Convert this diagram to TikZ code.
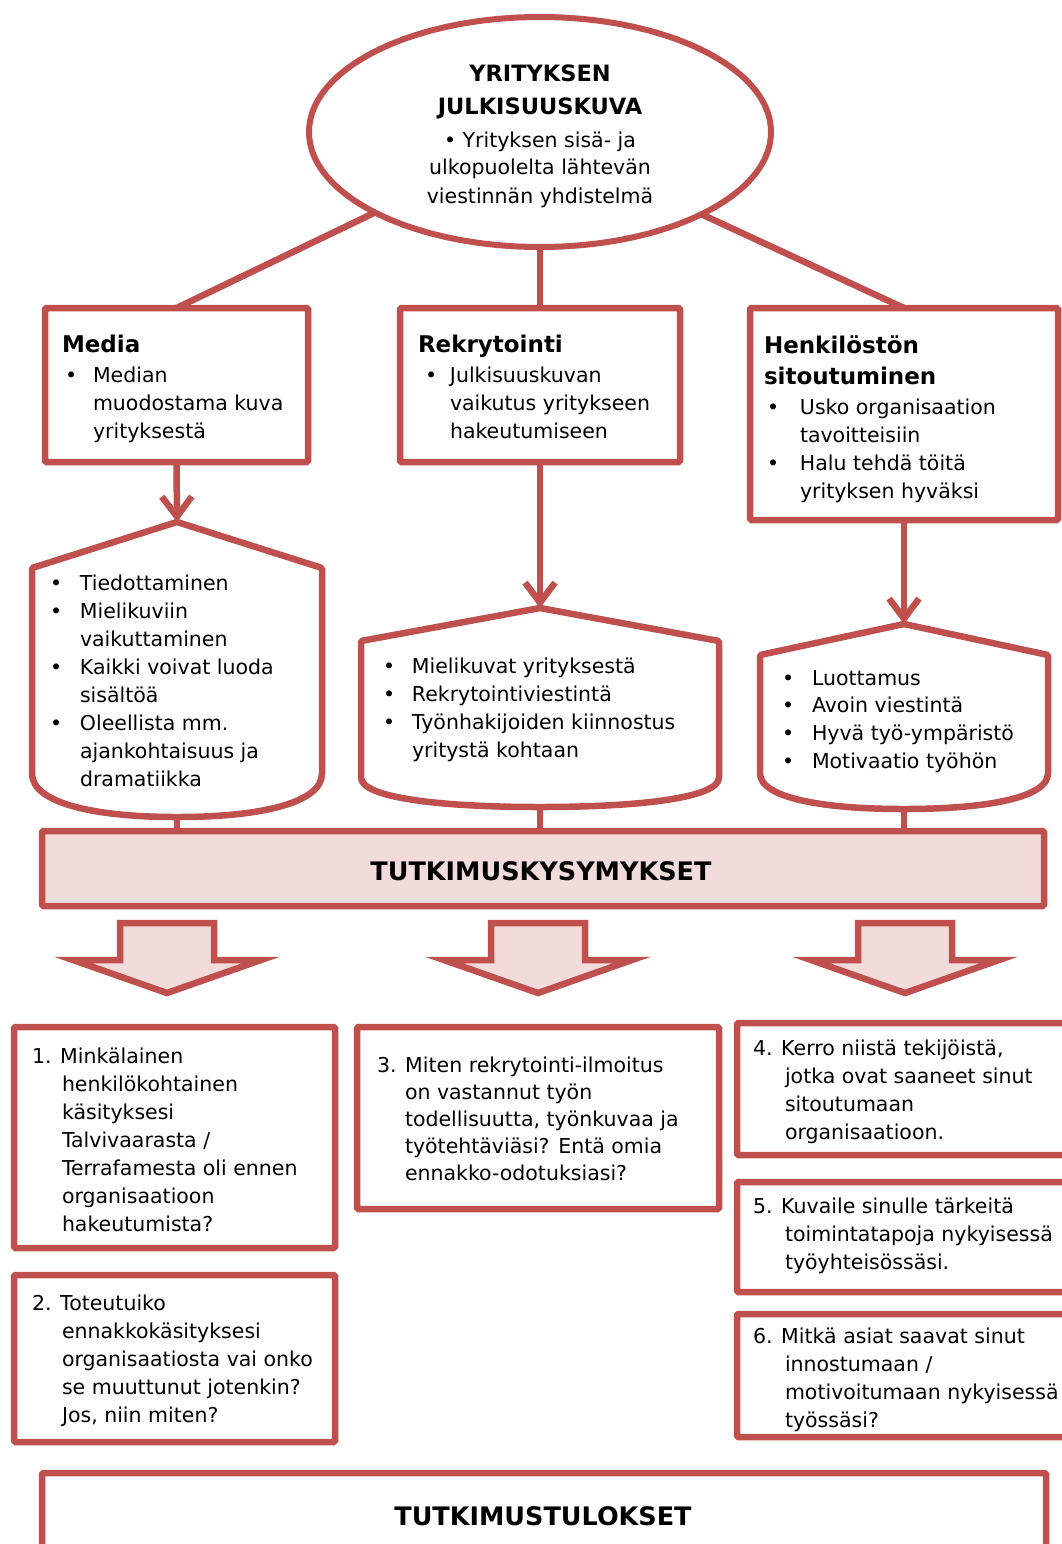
\documentclass[tikz,border=0pt]{standalone}
\usepackage{fontspec}
\setmainfont{DejaVu Sans}
\usetikzlibrary{shapes.geometric,arrows.meta}
\definecolor{accent}{HTML}{C0504D}
\definecolor{blush}{HTML}{F2DCDB}

% hexagon-like panel: left x, right x, apex y, corner y, side end y, bottom y
\newcommand\hexpanel[6]{%
  \draw[frame, fill=white] (#1,#4) -- ({(#1+#2)/2},#3) -- (#2,#4) -- (#2,#5)
    .. controls (#2,{#5+0.7*(#6-#5)}) and ({#2-0.22*(#2-#1)},#6) .. ({(#1+#2)/2},#6)
    .. controls ({#1+0.22*(#2-#1)},#6) and (#1,{#5+0.7*(#6-#5)}) .. (#1,#5) -- cycle;}

% broad downward block arrow centred on x
\newcommand\blockdown[1]{%
  \draw[blockarrow] ({#1-47},923) -- ({#1+47},923) -- ({#1+47},960) -- ({#1+94},960)
    -- (#1,993) -- ({#1-94},960) -- ({#1-47},960) -- cycle;}

\begin{document}
\begin{tikzpicture}[x=1pt,y=-1pt,
  frame/.style={draw=accent, line width=6.5pt, rounded corners=1.5pt},
  box/.style={frame, fill=white, anchor=north west, inner sep=0pt, outer sep=0pt},
  link/.style={draw=accent, line width=6.5pt},
  down/.style={link, -{Straight Barb[length=20pt,width=30pt]}},
  blockarrow/.style={draw=accent, fill=blush, line width=6.5pt, line join=miter},
  body/.style={inner sep=0pt, outer sep=0pt, anchor=base west, font=\fontsize{20.5}{28}\selectfont},
  head/.style={inner sep=0pt, outer sep=0pt, anchor=base west, font=\fontsize{23}{31}\selectfont\bfseries},
  banner/.style={inner sep=0pt, outer sep=0pt, anchor=base, font=\fontsize{25.5}{30}\selectfont\bfseries}
]
\useasboundingbox[fill=white] (0,0) rectangle (1062,1544);

% ---- top ellipse ----
\node[ellipse, draw=accent, line width=6pt, fill=white, minimum width=462pt,
      minimum height=230pt, inner sep=0pt, outer sep=0pt] (ell) at (540,132) {};
\node[inner sep=0pt, anchor=base] (elltitle) at (540,82)
  {\parbox[t]{320pt}{\centering\fontsize{22.5}{33}\selectfont\bfseries YRITYKSEN\\JULKISUUSKUVA\par}};
\node[inner sep=0pt, anchor=base] (elltext) at (540,147)
  {\parbox[t]{320pt}{\centering\fontsize{20.5}{28}\selectfont • Yrityksen sisä- ja\\ulkopuolelta lähtevän\\viestinnän yhdistelmä\par}};

% ---- first row of boxes ----
\node[box, minimum width=263pt, minimum height=154pt] (media) at (45,308) {};
\node[box, minimum width=280pt, minimum height=154pt] (rekry) at (400,308) {};
\node[box, minimum width=308pt, minimum height=212pt] (henk) at (750,308) {};

\draw[link] (ell.206.8) -- (media.north);
\draw[link] (ell.south) -- (rekry.north);
\draw[link] (ell.333.2) -- (henk.north);

\node[head] (mediahead) at (62,352) {Media};
\node[body] (medialist) at (65,382) {\begin{tabular}[t]{@{}p{28pt}@{}l@{}}
  • & Median\\ & muodostama kuva\\ & yrityksestä\end{tabular}};

\node[head] (rekryhead) at (418,352) {Rekrytointi};
\node[body] (rekrylist) at (425,382) {\begin{tabular}[t]{@{}p{25pt}@{}l@{}}
  • & Julkisuuskuvan\\ & vaikutus yritykseen\\ & hakeutumiseen\end{tabular}};

\node[head] (henkhead) at (764,353) {\begin{tabular}[t]{@{}l@{}}Henkilöstön\\sitoutuminen\end{tabular}};
\node[body] (henklist) at (767,414) {\begin{tabular}[t]{@{}p{33pt}@{}l@{}}
  • & Usko organisaation\\ & tavoitteisiin\\
  • & Halu tehdä töitä\\ & yrityksen hyväksi\end{tabular}};

% ---- second row: panels ----
\hexpanel{32}{322}{522}{568}{772}{817}
\coordinate (mediatop) at (177,522);
\coordinate (mediabot) at (177,817);
\hexpanel{361}{719}{608}{641}{776}{807}
\coordinate (rekrytop) at (540,608);
\coordinate (rekrybot) at (540,807);
\hexpanel{760}{1048}{624}{655}{772}{809}
\coordinate (henktop) at (904,624);
\coordinate (henkbot) at (904,809);

\draw[down] (media.south) -- (mediatop);
\draw[down] (rekry.south) -- (rekrytop);
\draw[down] (henk.south) -- (henktop);

\node[body] (medianotes) at (50,590) {\begin{tabular}[t]{@{}p{30pt}@{}l@{}}
  • & Tiedottaminen\\
  • & Mielikuviin\\ & vaikuttaminen\\
  • & Kaikki voivat luoda\\ & sisältöä\\
  • & Oleellista mm.\\ & ajankohtaisuus ja\\ & dramatiikka\end{tabular}};

\node[body] (rekrynotes) at (383,673) {\begin{tabular}[t]{@{}p{29pt}@{}l@{}}
  • & Mielikuvat yrityksestä\\
  • & Rekrytointiviestintä\\
  • & Työnhakijoiden kiinnostus\\ & yritystä kohtaan\end{tabular}};

\node[body, font=\fontsize{20.5}{27.7}\selectfont] (henknotes) at (782,685) {\begin{tabular}[t]{@{}p{30pt}@{}l@{}}
  • & Luottamus\\
  • & Avoin viestintä\\
  • & Hyvä työ-ympäristö\\
  • & Motivaatio työhön\end{tabular}};

% ---- research questions band ----
\node[box, fill=blush, minimum width=1002pt, minimum height=75pt] (kys) at (42,831) {};
\node[banner] (kystext) at (541,880) {TUTKIMUSKYSYMYKSET};

\draw[link] (mediabot) -- (mediabot |- kys.north);
\draw[link] (rekrybot) -- (rekrybot |- kys.north);
\draw[link] (henkbot) -- (henkbot |- kys.north);

\blockdown{167}
\blockdown{538}
\blockdown{905}

% ---- questions ----
\node[box, minimum width=321pt, minimum height=221pt] (q1) at (14,1027) {};
\node[box, minimum width=321pt, minimum height=167pt] (q2) at (14,1275) {};
\node[box, minimum width=362pt, minimum height=182pt] (q3) at (357,1027) {};
\node[box, minimum width=330pt, minimum height=132pt] (q4) at (737,1023) {};
\node[box, minimum width=330pt, minimum height=110pt] (q5) at (737,1182) {};
\node[box, minimum width=330pt, minimum height=123pt] (q6) at (737,1314) {};

\node[body] (q1text) at (32,1063) {\begin{tabular}[t]{@{}p{30pt}@{}l@{}}
  \multicolumn{2}{@{}l@{}}{1. Minkälainen}\\
  & henkilökohtainen\\ & käsityksesi\\ & Talvivaarasta /\\
  & Terrafamesta oli ennen\\ & organisaatioon\\ & hakeutumista?\end{tabular}};

\node[body] (q2text) at (32,1310) {\begin{tabular}[t]{@{}p{30pt}@{}l@{}}
  \multicolumn{2}{@{}l@{}}{2. Toteutuiko}\\
  & ennakkokäsityksesi\\ & organisaatiosta vai onko\\
  & se muuttunut jotenkin?\\ & Jos, niin miten?\end{tabular}};

\node[body, font=\fontsize{20.5}{27}\selectfont] (q3text) at (377,1072) {\begin{tabular}[t]{@{}p{28pt}@{}l@{}}
  \multicolumn{2}{@{}l@{}}{3. Miten rekrytointi-ilmoitus}\\
  & on vastannut työn\\ & todellisuutta, työnkuvaa ja\\
  & työtehtäviäsi? Entä omia\\ & ennakko-odotuksiasi?\end{tabular}};

\node[body] (q4text) at (753,1055) {\begin{tabular}[t]{@{}p{32pt}@{}l@{}}
  \multicolumn{2}{@{}l@{}}{4. Kerro niistä tekijöistä,}\\
  & jotka ovat saaneet sinut\\ & sitoutumaan\\ & organisaatioon.\end{tabular}};

\node[body] (q5text) at (753,1213) {\begin{tabular}[t]{@{}p{32pt}@{}l@{}}
  \multicolumn{2}{@{}l@{}}{5. Kuvaile sinulle tärkeitä}\\
  & toimintatapoja nykyisessä\\ & työyhteisössäsi.\end{tabular}};

\node[body] (q6text) at (753,1343) {\begin{tabular}[t]{@{}p{32pt}@{}l@{}}
  \multicolumn{2}{@{}l@{}}{6. Mitkä asiat saavat sinut}\\
  & innostumaan /\\ & motivoitumaan nykyisessä\\ & työssäsi?\end{tabular}};

% ---- results ----
\node[box, minimum width=1004pt, minimum height=120pt] (tul) at (42,1473) {};
\node[banner] (tultext) at (543,1525) {TUTKIMUSTULOKSET};
\end{tikzpicture}
\end{document}
